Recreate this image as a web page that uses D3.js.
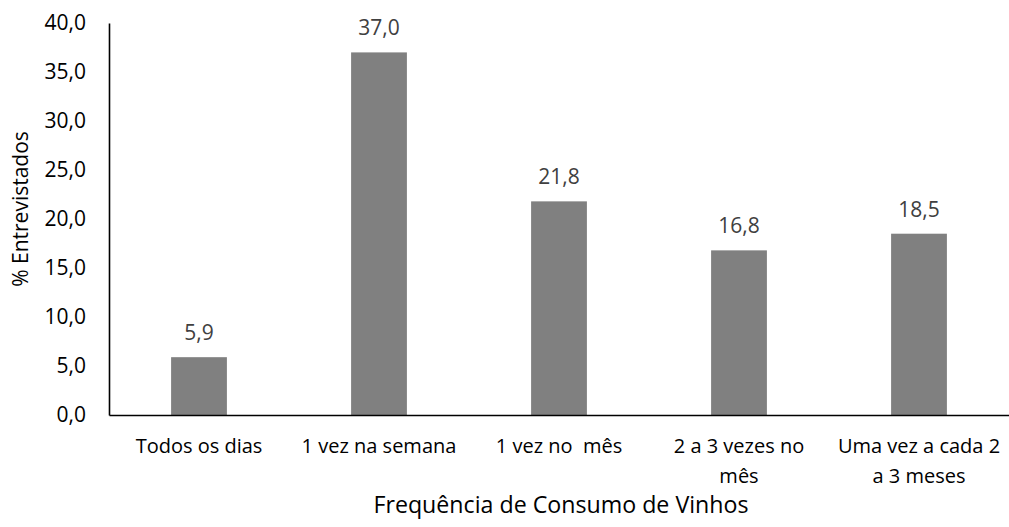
<!DOCTYPE html>
<html>
<head>
<meta charset="utf-8">
<script src="https://cdn.jsdelivr.net/npm/d3@7"></script>
<style>
  html, body { margin: 0; padding: 0; background: #fff; }
  svg { display: block; font-family: "Open Sans", sans-serif; }
</style>
</head>
<body>
<svg id="chart" width="1009" height="527"></svg>
<script>
// Frequência de consumo de vinhos (% de entrevistados)
// "\n" marks where a category label breaks onto a second line
const categories = [
  "Todos os dias",
  "1 vez na semana",
  "1 vez no  mês",
  "2 a 3 vezes no\nmês",
  "Uma vez a cada 2\na 3 meses"
];
const percentages = [5.9, 37.0, 21.8, 16.8, 18.5];
const yTicks = [0, 5, 10, 15, 20, 25, 30, 35, 40];
const xTitle = "Frequência de Consumo de Vinhos";
const yTitle = "% Entrevistados";

const FONT = "'Open Sans', sans-serif";
const svg = d3.select("#chart");
const margin = { left: 109, right: 0, top: 23, bottom: 112 };
const W = 1009, H = 527;
const plotBottom = H - margin.bottom;

const fmt = v => d3.format(".1f")(v).replace(".", ",");

const x = d3.scaleBand()
  .domain(categories)
  .range([margin.left, W - margin.right])
  .paddingInner(0.69)
  .paddingOuter(0.345);

const y = d3.scaleLinear()
  .domain([0, 40])
  .range([plotBottom, margin.top]);

// bars
svg.append("g").selectAll("rect")
  .data(categories)
  .join("rect")
  .attr("x", d => x(d))
  .attr("width", x.bandwidth())
  .attr("y", (d, i) => y(percentages[i]))
  .attr("height", (d, i) => y(0) - y(percentages[i]))
  .attr("fill", "#808080");

// value labels
svg.append("g").selectAll("text")
  .data(categories)
  .join("text")
  .attr("x", d => x(d) + x.bandwidth() / 2)
  .attr("y", (d, i) => y(percentages[i]) - 17)
  .attr("text-anchor", "middle")
  .attr("font-size", 21)
  .attr("fill", "#404040")
  .text((d, i) => fmt(percentages[i]));

// y axis
const yAxis = svg.append("g")
  .attr("transform", `translate(${margin.left},0)`)
  .call(d3.axisLeft(y).tickValues(yTicks).tickSize(0).tickPadding(23).tickFormat(fmt));
yAxis.select(".domain").attr("stroke", "#000").attr("stroke-width", 1.6);
yAxis.selectAll("text")
  .attr("font-size", 21)
  .attr("fill", "#000")
  .attr("font-family", FONT);

// x axis
const xAxis = svg.append("g")
  .attr("transform", `translate(0,${plotBottom})`)
  .call(d3.axisBottom(x).tickSize(0).tickPadding(0).tickFormat(""));
xAxis.select(".domain").attr("stroke", "#000").attr("stroke-width", 1.6);

// category labels, one tspan per line
const catG = svg.append("g");
categories.forEach(cat => {
  const cx = x(cat) + x.bandwidth() / 2;
  const t = catG.append("text")
    .attr("y", plotBottom + 38)
    .attr("text-anchor", "middle")
    .attr("font-size", 20)
    .attr("fill", "#000")
    .attr("xml:space", "preserve");
  cat.split("\n").forEach((ln, k) => {
    t.append("tspan")
      .attr("x", cx)
      .attr("dy", k === 0 ? 0 : 30)
      .text(ln);
  });
});

// axis titles
svg.append("text")
  .attr("x", (margin.left + W) / 2 + 2)
  .attr("y", 513)
  .attr("text-anchor", "middle")
  .attr("font-size", 23.2)
  .attr("fill", "#000")
  .text(xTitle);

svg.append("text")
  .attr("transform", `translate(28,209) rotate(-90)`)
  .attr("text-anchor", "middle")
  .attr("font-size", 21)
  .attr("fill", "#000")
  .text(yTitle);
</script>
</body>
</html>
